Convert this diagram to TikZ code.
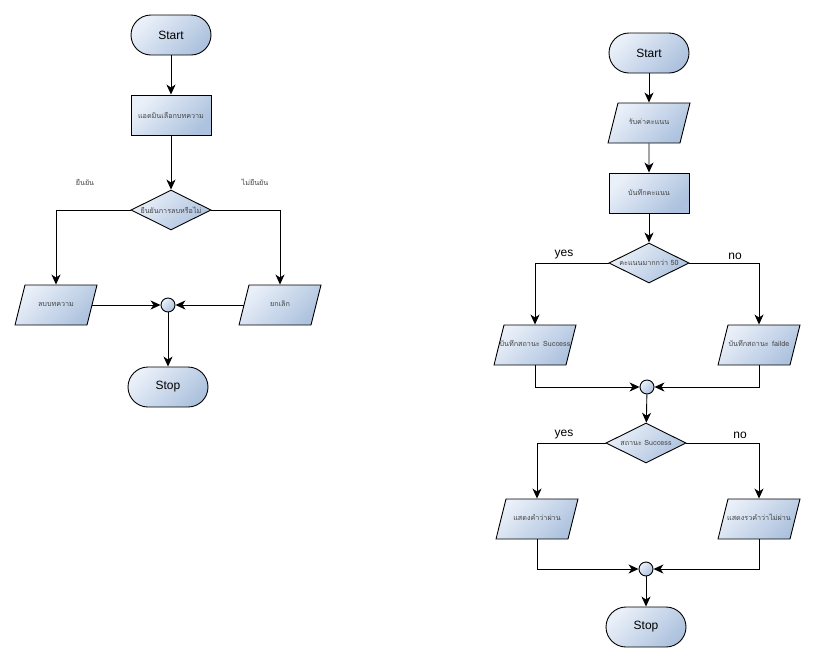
\documentclass[tikz,border=0pt]{standalone}
\usepackage{fontspec}
\setmainfont{Liberation Sans}
\newfontfamily\thaifont[Script=Thai]{Loma}
\usetikzlibrary{shapes.geometric,arrows.meta}

\definecolor{boxtop}{HTML}{EAF0F9}
\definecolor{boxbot}{HTML}{ADC2DE}
\definecolor{thaigrey}{HTML}{444444}
\newcommand{\tht}[1]{\makebox[0pt]{\thaifont\fontsize{7.2}{9}\selectfont\color{thaigrey}#1}}

\begin{document}
\begin{tikzpicture}[x=1pt,y=-1pt,
  bluefill/.style={draw=black, line width=0.9pt, top color=boxtop, bottom color=boxbot, shading angle=45},
  term/.style={bluefill, rectangle, rounded corners=20pt, minimum width=80pt, minimum height=40pt, inner sep=0pt, font=\fontsize{12}{14}\selectfont},
  proc/.style={bluefill, rectangle, minimum width=80pt, minimum height=40pt, inner sep=0pt},
  io/.style={bluefill, trapezium, trapezium left angle=76, trapezium right angle=104, inner sep=0pt, text width=62pt, align=center, text height=21.5pt, text depth=18.5pt},
  dec/.style={bluefill, diamond, minimum width=80pt, minimum height=40pt, inner sep=0pt},
  dot/.style={bluefill, circle, minimum size=14pt, inner sep=0pt},
  arr/.style={-{Stealth[length=10pt,width=9pt,inset=3pt]}, line width=0.9pt},
  yn/.style={font=\fontsize{12}{14}\selectfont}]
 \useasboundingbox (0,0) rectangle (815,662);
 % delete article
 \node[term] (start1) at (171,35) {Start};
 \node[proc] (admin) at (171,115) {\tht{แอดมินเลือกบทความ}};
 \node[dec] (confirm) at (171,210) {\tht{ยืนยันการลบหรือไม่}};
 \node[io] (delete) at (56,305) {\tht{ลบบทความ}};
 \node[io] (cancel) at (280,305) {\tht{ยกเลิก}};
 \node[dot] (join1) at (168,305) {};
 \node[term] (stop1) at (168,387) {Stop};
 \node (lyes) at (85,182) {\tht{ยืนยัน}};
 \node (lno) at (255,182) {\tht{ไม่ยืนยัน}};
 \draw[arr] (start1)--(admin);
 \draw[arr] (admin)--(confirm);
 \draw[arr] (confirm.west) -| (delete.north);
 \draw[arr] (confirm.east) -| (cancel.north);
 \draw[arr] (delete.east)--(join1);
 \draw[arr] (cancel.west)--(join1);
 \draw[arr] (join1)--(stop1);
 % score check
 \node[term] (start2) at (649,53) {Start};
 \node[io] (getscore) at (649,123) {\tht{รับค่าคะแนน}};
 \node[proc] (savescore) at (649,193) {\tht{บันทึกคะแนน}};
 \node[dec] (over50) at (649,263) {\tht{คะแนนมากกว่า 50}};
 \node[io] (succ) at (535,345) {\tht{บันทึกสถานะ Success}};
 \node[io] (fail) at (759,345) {\tht{บันทึกสถานะ failde}};
 \node[dot] (join2) at (647,387) {};
 \node[dec] (status) at (646,443) {\tht{สถานะ Success}};
 \node[io] (pass) at (537,519) {\tht{แสดงคำว่าผ่าน}};
 \node[io] (nopass) at (759,519) {\tht{แสดงรวคำว่าไม่ผ่าน}};
 \node[dot] (join3) at (646,569) {};
 \node[term] (stop2) at (646,627) {Stop};
 \node[yn] (yes1) at (564,255) {yes};
 \node[yn] (no1) at (735,256) {no};
 \node[yn] (yes2) at (564,435) {yes};
 \node[yn] (no2) at (740,435) {no};
 \draw[arr] (start2)--(getscore);
 \draw[arr] (getscore)--(savescore);
 \draw[arr] (savescore)--(over50);
 \draw[arr] (over50.west) -| (succ.north);
 \draw[arr] (over50.east) -| (fail.north);
 \draw[arr] (succ.south) |- (join2.west);
 \draw[arr] (fail.south) |- (join2.east);
 \draw[arr] (join2)--(status);
 \draw[arr] (status.west) -| (pass.north);
 \draw[arr] (status.east) -| (nopass.north);
 \draw[arr] (pass.south) |- (join3.west);
 \draw[arr] (nopass.south) |- (join3.east);
 \draw[arr] (join3)--(stop2);
\end{tikzpicture}
\end{document}
